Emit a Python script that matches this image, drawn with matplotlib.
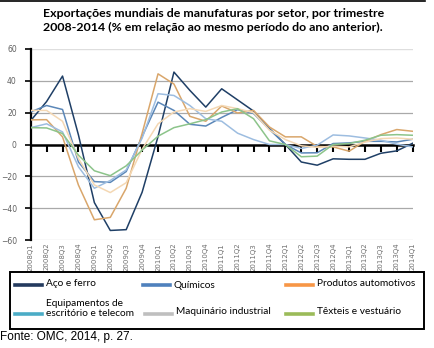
import matplotlib
matplotlib.use("Agg")
import matplotlib.pyplot as plt
from matplotlib.lines import Line2D
from matplotlib.patches import Rectangle

# ---------------------------------------------------------------------------
# Data
# ---------------------------------------------------------------------------
quarters = [f"{y}Q{q}" for y in range(2008, 2014) for q in range(1, 5)] + ["2014Q1"]

aco_ferro = [15, 27, 43, 6, -36.5, -54, -53.5, -30, 5, 45.5, 34, 23.5, 35,
             28, 21, 10, 0, -11, -13, -9, -9.3, -9.3, -5.5, -4, 0.8]
quimicos = [20.5, 24.5, 22, -11, -23.3, -23.8, -17, 5, 26.6, 21.4, 12.7, 11.6, 17,
            21.9, 19.5, 9.5, 0, -5.3, -5.2, 0.6, 1, 2, 2, 1.6, 3.3]
automotivos = [15.5, 15.6, 4.8, -25.5, -47.3, -45.8, -27.5, 7, 44.4, 38, 17.7, 14.6, 24.2,
               19.8, 21.4, 11, 4.8, 4.8, -1.2, -1.5, -4.2, 2, 6.2, 9.4, 8.3]
escritorio = [10.6, 13, 7.9, -14, -27.5, -22.6, -16, 4, 31.9, 30.8, 24.5, 16.2, 14.6,
              7.1, 3.1, 0, 0, -2.5, -0.4, 6, 5.4, 4.1, 2.7, 0.2, -1.5]
maquinario = [21.4, 21.4, 14.6, -8.8, -25.4, -30.2, -24, -3, 13, 20.4, 22.5, 20.8, 24.5,
              22.5, 20, 9, 3.1, -0.8, -1.8, -1, -1.5, 1.5, 3.7, 4.1, 3.3]
texteis = [10.6, 10.4, 6.9, -6.7, -16.5, -19.6, -13.4, -3.5, 5.2, 10.6, 13, 15.6, 20.4,
           22.5, 16.2, 2.3, 0, -7.7, -7.3, 0, 0.6, 2.7, 5.8, 6.2, 5.8]

series = [aco_ferro, quimicos, automotivos, escritorio, maquinario, texteis]
line_colors = ["#1f3f66", "#5b87b8", "#d9a66b", "#9dbde0", "#f4d8b4", "#8cc48a"]

legend_labels = ["Aço e ferro", "Químicos", "Produtos automotivos",
                 "Equipamentos de\nescritório e telecom", "Maquinário industrial",
                 "Têxteis e vestuário"]
legend_colors = ["#243a5e", "#4f81bd", "#f79646", "#4bacc6", "#bfbfbf", "#9bbb59"]

title = ("Exportações mundiais de manufaturas por setor, por trimestre\n"
         "2008-2014 (% em relação ao mesmo período do ano anterior).")
source = "Fonte: OMC, 2014, p. 27."

W, H = 434, 348

# ---------------------------------------------------------------------------
# Figure + axes
# ---------------------------------------------------------------------------
fig = plt.figure(figsize=(W / 100, H / 100), dpi=100)
fig.patch.set_facecolor("white")


def px(x, y):
    """pixel (from top-left) -> figure fraction"""
    return x / W, 1 - y / H


ax_l, ax_r, ax_t, ax_b = 30.7, 412.7, 49, 240
ax = fig.add_axes([ax_l / W, 1 - ax_b / H, (ax_r - ax_l) / W, (ax_b - ax_t) / H])

x = list(range(len(quarters)))
for vals, c in zip(series, line_colors):
    ax.plot(x, vals, color=c, lw=1.1, zorder=3)

ax.set_xlim(0, len(quarters) - 1)
ax.set_ylim(-60, 60)

# gridlines
for g in [-40, -20, 20, 40]:
    ax.axhline(g, color="#a9a9a9", lw=0.9, zorder=1)
for g in [-60, 60]:
    ax.axhline(g, color="#dedede", lw=1.0, zorder=1)

# spines
for s in ["top", "right"]:
    ax.spines[s].set_visible(False)
ax.spines["left"].set_linewidth(1.6)
ax.spines["bottom"].set_position(("data", 0))
ax.spines["bottom"].set_linewidth(1.8)
ax.spines["bottom"].set_zorder(2)

ax.set_yticks([-60, -40, -20, 0, 20, 40, 60])
ax.tick_params(axis="y", direction="out", length=4, width=1.2, pad=6,
               labelsize=5.5, labelcolor="#606060")
ax.set_xticks(x)
ax.tick_params(axis="x", direction="out", length=5, width=1.5, labelbottom=False)

secax = ax.secondary_xaxis(0.0)
secax.set_xticks(x)
secax.set_xticklabels(quarters, rotation=90, fontsize=5, color="#707070")
secax.tick_params(length=0, pad=2)
secax.spines["bottom"].set_visible(False)

# ---------------------------------------------------------------------------
# Title, top rule, source
# ---------------------------------------------------------------------------
fig.add_artist(Line2D([0, 425 / W], [1 - 1 / H, 1 - 1 / H], color="black", lw=1.2))
fig.text(*px(43, 20.5), title, fontsize=8.9, fontweight="bold", family="Lato",
         ha="left", va="center", linespacing=1.3)
fig.text(*px(0, 337), source, fontsize=8.5, family="Liberation Sans",
         ha="left", va="center")

# ---------------------------------------------------------------------------
# Legend box (drawn by hand to match the layout)
# ---------------------------------------------------------------------------
bx0, by0, bx1, by1 = 10, 271.5, 424, 329
fig.add_artist(Rectangle(px(bx0, by1), (bx1 - bx0) / W, (by1 - by0) / H,
                         transform=fig.transFigure, fill=False,
                         edgecolor="black", lw=1.4))

entry_pos = [(15, 284.5), (143, 284.5), (286, 284.5),
             (15, 313.5), (145, 313.5), (286, 313.5)]
text_y = [284, 285, 284, 308.5, 311.5, 312]
for (hx, hy), ty, lab, c in zip(entry_pos, text_y, legend_labels, legend_colors):
    x0, y0 = px(hx, hy)
    x1, _ = px(hx + 27, hy)
    fig.add_artist(Line2D([x0, x1], [y0, y0], color=c, lw=2.6,
                          transform=fig.transFigure))
    fig.text(*px(hx + 31, ty), lab, fontsize=7.3, family="Lato",
             ha="left", va="center", linespacing=1.25)

fig.savefig("out.png", dpi=100)
